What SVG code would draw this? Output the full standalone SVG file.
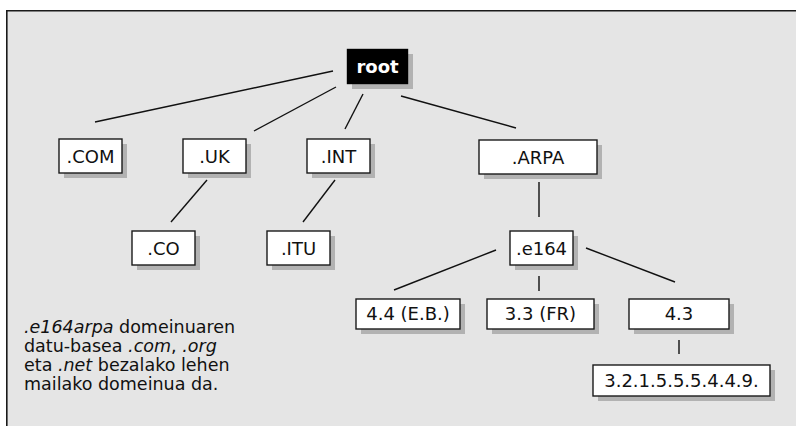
<svg xmlns="http://www.w3.org/2000/svg" width="796" height="426" viewBox="0 0 796 426">
<style>
.bg{fill:#e5e5e5}
.frame{fill:none;stroke:#1a1a1a;stroke-width:1.6}
.sh{fill:#b2b2b2}
.box{fill:#ffffff;stroke:#1a1a1a;stroke-width:1.4}
.rootbox{fill:#000000;stroke:#000000;stroke-width:1.4}
.lbl{font-family:"DejaVu Sans","Liberation Sans",sans-serif;font-size:18px;fill:#111;text-anchor:middle}
.rootlbl{font-family:"DejaVu Sans","Liberation Sans",sans-serif;font-size:18px;font-weight:bold;fill:#ffffff;text-anchor:middle}
.note{font-family:"DejaVu Sans","Liberation Sans",sans-serif;font-size:17.5px;fill:#111}
.it{font-style:italic}
#connectors line{stroke:#111;stroke-width:1.4}
</style>
<rect class="bg" x="6" y="10" width="790" height="416"/>
<path class="frame" d="M6.8 426 V10.8 H796"/>
<g id="connectors">
<line x1="333" y1="71" x2="95" y2="122"/>
<line x1="336" y1="87" x2="254" y2="131"/>
<line x1="363" y1="94" x2="345" y2="129"/>
<line x1="401" y1="96" x2="516" y2="128"/>
<line x1="207" y1="180" x2="171" y2="222"/>
<line x1="335" y1="180" x2="303" y2="222"/>
<line x1="539" y1="182" x2="539" y2="217"/>
<line x1="496" y1="250" x2="394" y2="290"/>
<line x1="539" y1="276" x2="539" y2="291"/>
<line x1="586" y1="248" x2="675" y2="282"/>
<line x1="679" y1="340" x2="679" y2="354"/>
</g>
<g id="root">
<rect class="sh" x="352" y="54" width="61" height="35"/>
<rect class="rootbox" x="347.5" y="49.5" width="60" height="34"/>
<text class="rootlbl" x="377.5" y="73">root</text>
</g>
<g id="com">
<rect class="sh" x="64" y="144" width="63" height="34"/>
<rect class="box" x="59" y="139" width="63" height="34"/>
<text class="lbl" x="90.5" y="163">.COM</text>
</g>
<g id="uk">
<rect class="sh" x="188" y="144" width="63" height="34"/>
<rect class="box" x="183" y="139" width="63" height="34"/>
<text class="lbl" x="214.5" y="163">.UK</text>
</g>
<g id="int">
<rect class="sh" x="312" y="144" width="63" height="34"/>
<rect class="box" x="307" y="139" width="63" height="34"/>
<text class="lbl" x="338.5" y="163">.INT</text>
</g>
<g id="arpa">
<rect class="sh" x="484" y="145" width="118" height="34"/>
<rect class="box" x="479" y="140" width="118" height="34"/>
<text class="lbl" x="538" y="164">.ARPA</text>
</g>
<g id="co">
<rect class="sh" x="137" y="236" width="63" height="34"/>
<rect class="box" x="132" y="231" width="63" height="34"/>
<text class="lbl" x="163.5" y="255">.CO</text>
</g>
<g id="itu">
<rect class="sh" x="272" y="236" width="63" height="34"/>
<rect class="box" x="267" y="231" width="63" height="34"/>
<text class="lbl" x="298.5" y="255">.ITU</text>
</g>
<g id="e164">
<rect class="sh" x="515" y="236" width="63" height="34"/>
<rect class="box" x="510" y="231" width="63" height="34"/>
<text class="lbl" x="541.5" y="255">.e164</text>
</g>
<g id="n44">
<rect class="sh" x="361" y="304" width="104" height="30"/>
<rect class="box" x="356" y="299" width="104" height="30"/>
<text class="lbl" x="408" y="320">4.4 (E.B.)</text>
</g>
<g id="n33">
<rect class="sh" x="492" y="304" width="107" height="30"/>
<rect class="box" x="487" y="299" width="107" height="30"/>
<text class="lbl" x="540.5" y="320">3.3 (FR)</text>
</g>
<g id="n43">
<rect class="sh" x="634" y="304" width="100" height="30"/>
<rect class="box" x="629" y="299" width="100" height="30"/>
<text class="lbl" x="679" y="320">4.3</text>
</g>
<g id="num">
<rect class="sh" x="598" y="370" width="177" height="31"/>
<rect class="box" x="593" y="365" width="177" height="31"/>
<text class="lbl" x="681.5" y="387">3.2.1.5.5.5.4.4.9.</text>
</g>
<g id="note">
<text class="note" x="24" y="333"><tspan class="it">.e164arpa</tspan> domeinuaren</text>
<text class="note" x="24" y="352">datu-basea <tspan class="it">.com</tspan>, <tspan class="it">.org</tspan></text>
<text class="note" x="24" y="371">eta <tspan class="it">.net</tspan> bezalako lehen</text>
<text class="note" x="24" y="390">mailako domeinua da.</text>
</g>
</svg>
